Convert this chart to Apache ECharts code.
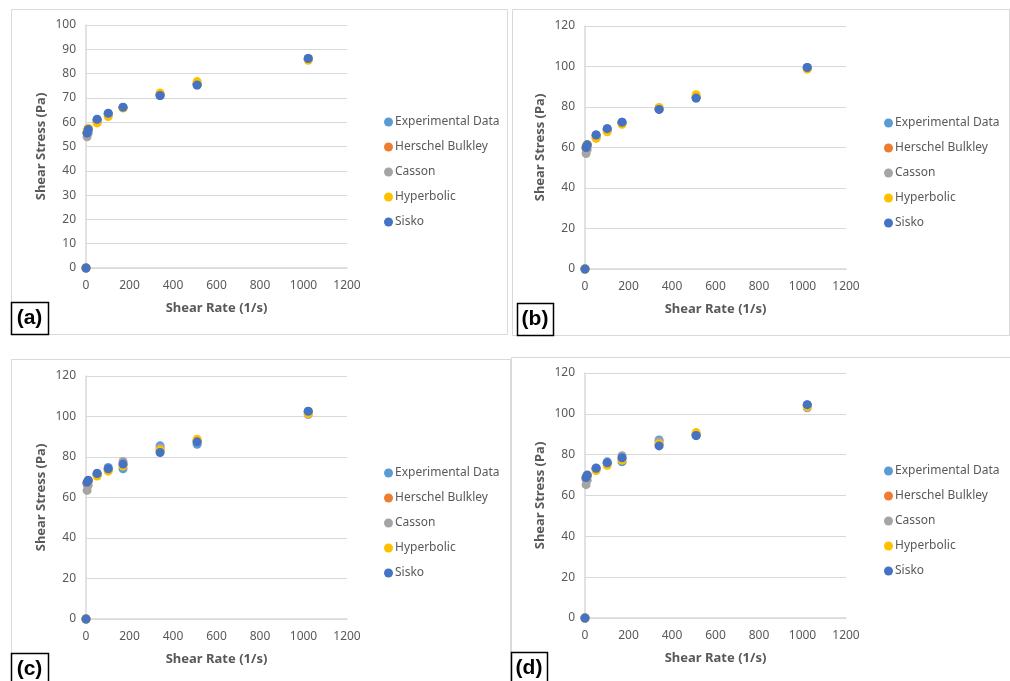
<!DOCTYPE html>
<html>
<head>
<meta charset="utf-8">
<script src="https://cdn.jsdelivr.net/npm/echarts@6/dist/echarts.min.js"></script>
<style>
html,body{margin:0;padding:0;background:#fff;}
#chart{width:1010px;height:681px;}
</style>
</head>
<body>
<div id="chart"></div>
<script>
// Shear rates (1/s)
const shearRate = [0, 5.11, 10.22, 51.1, 102.2, 170.3, 340.6, 510.9, 1021.8];
const seriesNames = ['Experimental Data', 'Herschel Bulkley', 'Casson', 'Hyperbolic', 'Sisko'];
const panelLabels = ['(a)', '(b)', '(c)', '(d)'];
const yMaxes = [100, 120, 120, 120];
const yIntervals = [10, 20, 20, 20];
const xTicks = [0, 200, 400, 600, 800, 1000, 1200];

// Panel (a)
const aExp    = [0, 55.5, 57.0, 61.0, 63.5, 66.0, 71.0, 75.3, 86.2];
const aHB     = [0, 55.8, 57.0, 60.8, 63.4, 66.0, 71.2, 75.6, 86.0];
const aCasson = [0, 54.0, 55.5, 60.0, 63.0, 66.0, 71.5, 76.0, 86.0];
const aHyper  = [0, 56.5, 57.5, 59.7, 62.3, 65.8, 72.0, 76.7, 85.5];
const aSisko  = [0, 55.5, 57.0, 61.2, 63.7, 66.2, 71.0, 75.3, 86.2];
// Panel (b)
const bExp    = [0, 60.0, 61.3, 66.2, 69.3, 72.5, 78.8, 84.4, 99.5];
const bHB     = [0, 59.5, 61.0, 66.0, 69.0, 72.3, 79.0, 84.8, 99.3];
const bCasson = [0, 57.0, 59.0, 65.0, 68.5, 72.0, 79.3, 85.0, 99.0];
const bHyper  = [0, 60.8, 61.5, 64.5, 67.8, 71.5, 79.8, 86.1, 98.7];
const bSisko  = [0, 60.0, 61.3, 66.2, 69.3, 72.5, 78.8, 84.4, 99.5];
// Panel (c)
const cExp    = [0, 66.5, 68.0, 72.0, 74.8, 74.2, 85.5, 86.3, 102.5];
const cHB     = [0, 67.0, 68.3, 71.5, 74.0, 76.3, 83.0, 87.8, 102.3];
const cCasson = [0, 63.5, 66.0, 71.0, 74.0, 77.8, 84.5, 87.5, 101.0];
const cHyper  = [0, 67.5, 68.0, 70.6, 73.0, 75.5, 83.5, 88.8, 101.5];
const cSisko  = [0, 67.5, 68.5, 71.8, 74.2, 76.5, 82.2, 87.5, 102.6];
// Panel (d)
const dExp    = [0, 68.0, 69.5, 73.5, 76.5, 76.5, 87.2, 89.3, 104.3];
const dHB     = [0, 68.5, 69.8, 73.2, 75.8, 78.2, 85.0, 89.8, 104.2];
const dCasson = [0, 65.3, 67.5, 73.0, 76.0, 79.5, 86.5, 90.0, 103.0];
const dHyper  = [0, 69.0, 69.8, 72.2, 74.8, 77.3, 85.2, 90.8, 103.5];
const dSisko  = [0, 68.8, 70.0, 73.3, 76.0, 78.5, 84.3, 89.4, 104.5];

const panels = [
  [aExp, aHB, aCasson, aHyper, aSisko],
  [bExp, bHB, bCasson, bHyper, bSisko],
  [cExp, cHB, cCasson, cHyper, cSisko],
  [dExp, dHB, dCasson, dHyper, dSisko]
];

const colors = ['#5B9BD5', '#ED7D31', '#A5A5A5', '#FFC000', '#4472C4'];
const FONT = 'Noto Sans';
const TXT = '#595959';
const GRIDC = '#D9D9D9';

// layout
const grids = [
  {left: 86, top: 25, width: 261, height: 243},
  {left: 585, top: 26, width: 261, height: 243},
  {left: 86, top: 376, width: 261, height: 243},
  {left: 585, top: 373, width: 261, height: 245}
];
const legendPos = [
  {left: 382, top: 110},
  {left: 882, top: 111},
  {left: 382, top: 461},
  {left: 882, top: 459}
];
const frames = [
  {x: 11, y: 9, w: 496, h: 325},
  {x: 512, y: 9, w: 497, h: 326},
  {x: 11, y: 359, w: 499, h: 330},
  {x: 511, y: 357, w: 499, h: 330}
];
const labelBoxes = [
  {x: 11, y: 302, w: 37, h: 32},
  {x: 517, y: 303, w: 36, h: 32},
  {x: 11, y: 653, w: 37, h: 35},
  {x: 511, y: 652, w: 36, h: 35}
];

const xAxis = [], yAxis = [], series = [], legend = [], graphic = [];
frames.forEach(f => graphic.push({
  type: 'rect', shape: {x: f.x + 0.5, y: f.y + 0.5, width: f.w, height: f.h},
  style: {fill: 'none', stroke: GRIDC, lineWidth: 1}, z: 0
}));
labelBoxes.forEach((b, i) => {
  graphic.push({
    type: 'rect', shape: {x: b.x + 0.5, y: b.y + 0.5, width: b.w, height: b.h},
    style: {fill: '#fff', stroke: '#000', lineWidth: 1.5}, z: 10
  });
  graphic.push({
    type: 'text', x: b.x + b.w / 2, y: b.y + 16, z: 11,
    style: {text: panelLabels[i], font: 'bold 21px "Liberation Sans"', fill: '#000', align: 'center', verticalAlign: 'middle'}
  });
});

grids.forEach((g, i) => {
  xAxis.push({
    gridIndex: i, type: 'value', min: xTicks[0], max: xTicks[xTicks.length - 1], interval: xTicks[1] - xTicks[0],
    name: 'Shear Rate (1/s)', nameLocation: 'middle', nameGap: 34,
    nameTextStyle: {color: TXT, fontFamily: FONT, fontWeight: 'bold', fontSize: 13},
    axisLine: {show: true, onZero: false, lineStyle: {color: GRIDC, width: 1.5}},
    axisTick: {show: false},
    axisLabel: {color: TXT, fontFamily: FONT, fontSize: 12, margin: 12, formatter: v => String(v)},
    splitLine: {show: false}
  });
  yAxis.push({
    gridIndex: i, type: 'value', min: 0, max: yMaxes[i], interval: yIntervals[i],
    name: 'Shear Stress (Pa)', nameLocation: 'middle', nameGap: 38,
    nameTextStyle: {color: TXT, fontFamily: FONT, fontWeight: 'bold', fontSize: 13},
    axisLine: {show: true, lineStyle: {color: GRIDC, width: 1.5}},
    axisTick: {show: false},
    axisLabel: {color: TXT, fontFamily: FONT, fontSize: 12, margin: 10, formatter: v => String(v)},
    splitLine: {show: true, lineStyle: {color: GRIDC, width: 1}}
  });
  panels[i].forEach((vals, k) => {
    series.push({
      name: seriesNames[k], type: 'scatter', xAxisIndex: i, yAxisIndex: i,
      symbol: 'circle', symbolSize: 9,
      itemStyle: {color: colors[k], opacity: 1},
      data: shearRate.map((x, j) => [x, vals[j]]),
      z: 2 + k
    });
  });
  legend.push({
    data: seriesNames, orient: 'vertical', left: legendPos[i].left - 3, top: legendPos[i].top,
    icon: 'circle', itemWidth: 9, itemHeight: 9, itemGap: 11,
    textStyle: {color: TXT, fontFamily: FONT, fontSize: 12, lineHeight: 14, padding: [0, 0, 0, -3]},
    selectedMode: false
  });
});

const chart = echarts.init(document.getElementById('chart'), null, {renderer: 'canvas'});
chart.setOption({
  backgroundColor: '#fff',
  animation: false,
  color: colors,
  grid: grids.map(g => Object.assign({containLabel: false}, g)),
  xAxis, yAxis, series, legend, graphic
});
</script>
</body>
</html>
